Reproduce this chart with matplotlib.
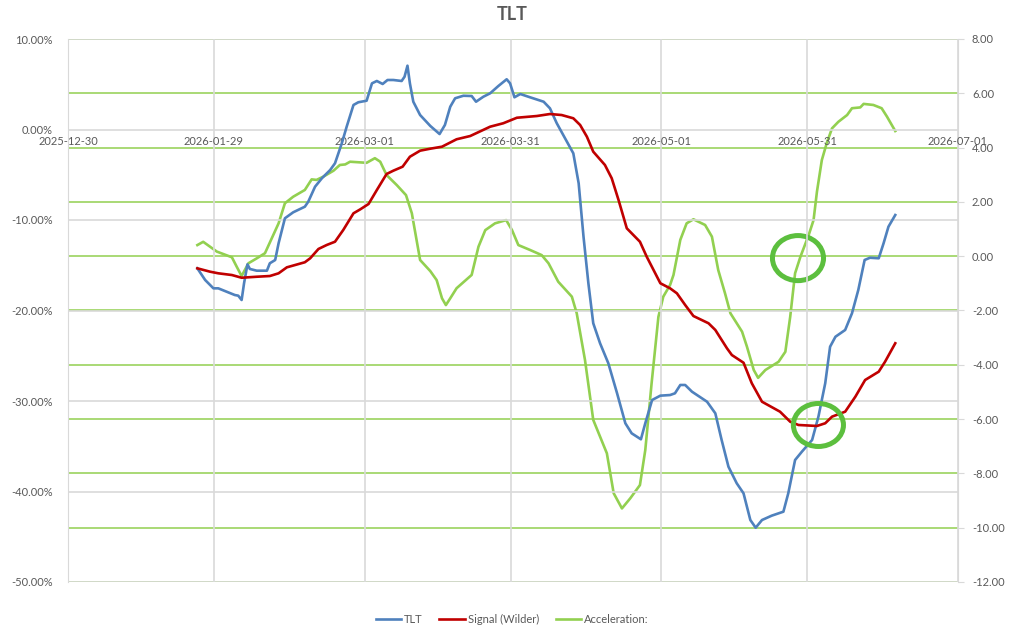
import matplotlib
matplotlib.use("Agg")
import matplotlib.pyplot as plt
from matplotlib.patches import Ellipse
from matplotlib.ticker import FuncFormatter
import pandas as pd

"""
    Data (x = days after 2025-12-30)
"""
start_date = "2025-12-30"
tick_dates = ["2025-12-30", "2026-01-29", "2026-03-01", "2026-03-31",
              "2026-05-01", "2026-05-31", "2026-07-01"]

tlt_day = [26.6, 28.2, 29.9, 30.9, 32.6, 34.3, 35.0, 35.7, 36.2, 36.9, 37.4, 38.8, 40.9, 41.5,
           42.6, 43.3, 44.6, 46.3, 48.7, 49.4, 50.8, 52.2, 53.9, 54.9, 56.3, 57.3, 58.7, 59.7,
           61.4, 62.5, 63.5, 64.7, 65.7, 66.9, 68.6, 69.2, 69.8, 70.3, 71.0, 72.4, 74.5, 76.4,
           77.5, 78.6, 79.6, 81.3, 83.0, 83.9, 85.4, 86.8, 88.5, 90.2, 90.9, 91.8, 93.0, 95.0,
           97.8, 99.1, 100.5, 102.2, 103.9, 105.0, 106.0, 107.0, 108.0, 109.4, 111.1, 112.9,
           114.6, 115.9, 117.8, 118.7, 120.1, 121.8, 123.8, 124.8, 125.9, 126.9, 128.3, 131.4,
           133.1, 134.4, 135.8, 137.5, 138.9, 140.3, 141.4, 142.7, 144.7, 147.1, 148.1, 149.5,
           150.9, 153.0, 154.3, 155.7, 156.7, 157.8, 159.8, 161.2, 162.5, 163.8, 164.9, 166.7,
           167.7, 168.7, 170.1]
tlt_pct = [-15.34, -16.63, -17.55, -17.55, -17.92, -18.29, -18.36, -18.84, -16.99, -14.90,
           -15.41, -15.60, -15.60, -14.78, -14.42, -12.57, -9.81, -9.15, -8.53, -7.98, -6.32,
           -5.39, -4.48, -3.73, -1.52, 0.31, 2.71, 3.01, 3.18, 5.10, 5.36, 5.03, 5.47, 5.47,
           5.36, 5.83, 7.05, 5.10, 3.07, 1.60, 0.39, -0.50, 0.50, 2.52, 3.45, 3.73, 3.70, 3.07,
           3.62, 4.00, 4.81, 5.55, 5.10, 3.56, 3.92, 3.56, 3.07, 2.34, 0.69, -0.97, -2.63,
           -5.94, -11.85, -16.99, -21.41, -23.62, -25.83, -29.15, -32.46, -33.57, -34.23,
           -32.46, -29.89, -29.41, -29.34, -29.15, -28.23, -28.23, -28.97, -30.08, -31.36,
           -34.31, -37.26, -39.09, -40.20, -43.15, -44.00, -43.15, -42.67, -42.23, -40.20,
           -36.52, -35.60, -34.31, -31.73, -28.04, -24.00, -22.90, -22.15, -20.31, -17.73,
           -14.42, -14.17, -14.23, -12.57, -10.74, -9.45]

signal_day = [26.6, 29.2, 30.9, 33.7, 35.7, 38.8, 41.5, 43.3, 45.0, 48.7, 49.8, 51.5, 53.2,
              54.9, 56.6, 58.7, 60.1, 61.8, 63.5, 65.5, 66.9, 68.8, 70.3, 72.4, 74.5, 76.9,
              79.9, 82.7, 86.8, 89.5, 92.3, 96.4, 99.1, 101.5, 103.9, 105.3, 106.7, 108.0,
              110.4, 111.8, 113.2, 114.9, 117.6, 119.0, 121.8, 123.8, 125.2, 126.9, 128.6,
              131.7, 133.1, 135.5, 136.5, 138.9, 140.6, 142.7, 146.4, 148.5, 150.2, 154.0,
              155.7, 157.1, 159.8, 161.9, 163.9, 166.7, 168.0, 170.1]
signal_pct = [-15.34, -15.71, -15.89, -16.08, -16.38, -16.27, -16.19, -15.89, -15.23, -14.67,
              -14.23, -13.20, -12.76, -12.40, -11.10, -9.26, -8.82, -8.23, -6.69, -4.92,
              -4.55, -4.11, -3.01, -2.34, -2.12, -1.90, -1.08, -0.72, 0.31, 0.69, 1.30, 1.49,
              1.71, 1.60, 1.24, 0.50, -0.80, -2.45, -3.92, -5.39, -7.79, -10.92, -12.40,
              -14.06, -16.99, -17.55, -18.10, -19.39, -20.61, -21.41, -22.15, -24.18, -24.92,
              -25.77, -28.04, -30.08, -31.18, -32.29, -32.65, -32.76, -32.46, -31.73, -31.18,
              -29.52, -27.68, -26.76, -25.66, -23.62]

accel_day = [26.6, 27.8, 29.2, 30.6, 33.7, 34.7, 35.7, 37.1, 38.8, 40.5, 41.9, 43.3, 44.6,
             46.3, 48.7, 50.1, 51.1, 52.5, 54.6, 55.9, 57.0, 58.0, 61.4, 63.1, 64.2, 65.5,
             67.6, 69.5, 70.7, 72.4, 74.5, 75.8, 76.9, 77.7, 78.6, 79.9, 83.0, 84.4, 85.8,
             87.8, 90.1, 91.3, 92.6, 95.0, 97.4, 98.8, 100.8, 103.6, 104.6, 106.3, 108.0,
             110.8, 112.2, 113.9, 115.6, 117.6, 118.7, 120.0, 121.4, 122.4, 123.8, 124.5,
             125.9, 127.2, 128.6, 131.0, 132.4, 133.7, 135.1, 136.2, 138.6, 139.6, 141.0,
             141.9, 143.4, 146.1, 147.5, 148.5, 149.5, 150.6, 152.3, 153.3, 154.0, 155.0,
             156.0, 157.1, 158.4, 160.2, 161.2, 162.9, 163.6, 165.6, 167.3, 168.4, 170.1]
accel_val = [0.41, 0.53, 0.35, 0.17, -0.04, -0.39, -0.73, -0.26, -0.08, 0.11, 0.66, 1.21,
             1.95, 2.19, 2.44, 2.83, 2.81, 2.93, 3.15, 3.36, 3.38, 3.48, 3.44, 3.61, 3.48,
             2.99, 2.62, 2.25, 1.58, -0.14, -0.55, -0.88, -1.55, -1.80, -1.55, -1.18, -0.69,
             0.35, 0.96, 1.21, 1.33, 0.96, 0.41, 0.23, 0.04, -0.26, -0.94, -1.49, -2.10,
             -3.82, -6.03, -7.26, -8.73, -9.29, -8.92, -8.43, -7.14, -4.68, -2.23, -1.49,
             -1.06, -0.69, 0.60, 1.21, 1.36, 1.15, 0.72, -0.51, -1.37, -2.10, -2.78, -3.33,
             -4.19, -4.48, -4.19, -3.89, -3.52, -2.23, -0.63, -0.02, 0.78, 1.33, 2.38, 3.54,
             4.16, 4.71, 4.95, 5.20, 5.45, 5.48, 5.61, 5.57, 5.45, 5.14, 4.61]

left_ticks = [-50, -40, -30, -20, -10, 0, 10]
right_ticks = [-12, -10, -8, -6, -4, -2, 0, 2, 4, 6, 8]

"""
    Styling
"""
plt.rcParams['font.family'] = ['Lato', 'DejaVu Sans']
text_gray = "#595959"
grid_gray = "#D9D9D9"
blue = "#4F81BD"
red = "#C00000"
green = "#92D050"
mark_green = "#5CBF3E"

tick_pos = [(d - pd.Timestamp(start_date)).days for d in pd.to_datetime(tick_dates)]

fig = plt.figure(figsize=(10.24, 6.36), dpi=100)
ax1 = fig.add_axes([68 / 1024, 1 - 582 / 636, 890 / 1024, 543 / 636])
ax2 = ax1.twinx()

# primary axis (percent) on top so its lines sit above the secondary grid
ax1.set_zorder(2)
ax1.patch.set_visible(False)

l_tlt, = ax1.plot(tlt_day, tlt_pct, color=blue, lw=1.9, label="TLT", solid_joinstyle="round")
l_sig, = ax1.plot(signal_day, signal_pct, color=red, lw=1.9, label="Signal (Wilder)",
                  solid_joinstyle="round")
l_acc, = ax2.plot(accel_day, accel_val, color=green, lw=1.9, label="Acceleration:",
                  solid_joinstyle="round")

ax1.set_xlim(tick_pos[0], tick_pos[-1])
ax1.set_ylim(-50, 10)
ax2.set_ylim(-12, 8)

ax1.set_xticks(tick_pos)
ax1.set_xticklabels(tick_dates)
ax1.set_yticks(left_ticks)
ax2.set_yticks(right_ticks)
ax1.yaxis.set_major_formatter(FuncFormatter(lambda v, _: "%.2f%%" % v))
ax2.yaxis.set_major_formatter(FuncFormatter(lambda v, _: "%.2f" % v))

ax1.grid(True, axis="both", color=grid_gray, lw=1.2)
ax2.grid(True, axis="y", color=green, lw=1.1)
ax2.grid(False, axis="x")

# horizontal axis crosses at 0%
ax1.spines["bottom"].set_position(("data", 0))
ax1.spines["bottom"].set_visible(False)
ax1.spines["top"].set_visible(False)
ax1.spines["right"].set_visible(False)
ax1.spines["left"].set_color(grid_gray)
for s in ["top", "bottom", "left"]:
    ax2.spines[s].set_visible(False)
ax2.spines["right"].set_color(grid_gray)

ax1.tick_params(axis="x", length=0, pad=5, labelsize=8, labelcolor=text_gray)
ax1.tick_params(axis="y", length=0, pad=11, labelsize=8, labelcolor=text_gray)
ax2.tick_params(axis="y", length=4, color=grid_gray, pad=6, labelsize=8,
                labelcolor=text_gray)

"""
    Highlight circles
"""
ax2.add_patch(Ellipse((150.1, -0.07), 10.5, 1.66, fill=False, ec=mark_green, lw=3.6, zorder=5))
ax1.add_patch(Ellipse((154.3, -32.65), 10.3, 4.75, fill=False, ec=mark_green, lw=3.6, zorder=5))

fig.text(0.5, 1 - 14 / 636, "TLT", ha="center", va="center", fontsize=13,
         fontweight="bold", color=text_gray)

fig.legend(handles=[l_tlt, l_sig, l_acc], loc="center", bbox_to_anchor=(0.5, 1 - 619 / 636),
           ncol=3, frameon=False, fontsize=8, labelcolor=text_gray, handlelength=2.3,
           handletextpad=0.25, columnspacing=1.5)

fig.savefig("out.png", dpi=100)
